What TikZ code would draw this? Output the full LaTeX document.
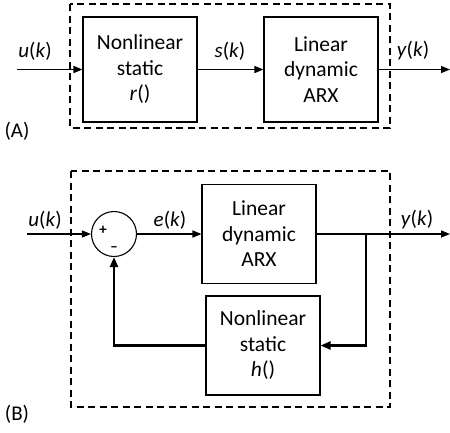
\documentclass[tikz,border=0pt]{standalone}
\usepackage{fontspec}
\setmainfont{Carlito}
\usepackage{tikz}
\usetikzlibrary{arrows.meta, positioning, calc}

\begin{document}
\begin{tikzpicture}[
  x=1pt, y=-1pt,
  block/.style={draw, line width=1.1pt, minimum width=114pt, minimum height=#1, inner sep=0pt, align=center, font=\fontsize{21.5}{25.5}\selectfont},
  block/.default=105pt,
  sumnode/.style={circle, draw, line width=1.1pt, minimum size=45pt, inner sep=0pt},
  frame/.style={line width=1.1pt, dash pattern=on 7pt off 4.5pt},
  signal/.style={line width=1.4pt, -{Triangle[length=9pt, width=7pt]}},
  feedback/.style={line width=2.3pt, -{Triangle[length=10pt, width=8pt]}},
  lbl/.style={font=\fontsize{21}{24}\selectfont, inner sep=0pt},
]
  \useasboundingbox (0,0) rectangle (450,432);

  % (A) Hammerstein chain
  \draw[frame] (70,4) rectangle (390,128);
  \node[block] (nlr) at (140,69.5) {Nonlinear\\static\\\textit{r}()};
  \node[block] (arxa) at (321,69.5) {Linear\\dynamic\\ARX};
  \coordinate (ina) at (17,69.5);
  \coordinate (outa) at (450,69.5);

  \draw[signal] (ina) -- (nlr.west);
  \draw[signal] (nlr.east) -- (arxa.west);
  \draw[signal] (arxa.east) -- (outa);

  \node[lbl] (ua) at (35,51) {\textit{u}(\textit{k})};
  \node[lbl] (sa) at (230,51) {\textit{s}(\textit{k})};
  \node[lbl] (ya) at (413,51) {\textit{y}(\textit{k})};
  \node[lbl] (tagA) at (17,131) {(A)};

  % (B) feedback loop
  \draw[frame] (71,171) rectangle (390,407);
  \node[sumnode] (sum) at (114,234) {};
  \node[font=\fontsize{15}{15}\selectfont\bfseries, inner sep=0pt] (plus) at (103,230) {+};
  \node[font=\fontsize{15}{15}\selectfont\bfseries, inner sep=0pt] (minus) at (114,249) {\textendash};
  \node[block=99pt] (arxb) at (259,234) {Linear\\dynamic\\ARX};
  \node[block=99pt] (nlh) at (263,345.5) {Nonlinear\\static\\\textit{h}()};
  \coordinate (inb) at (27,234);
  \coordinate (outb) at (450,234);
  \coordinate (branch) at (366,234);

  \draw[signal] (inb) -- (sum.west);
  \draw[signal] (sum.east) -- (arxb.west);
  \draw[signal] (arxb.east) -- (outb);
  \draw[feedback] (branch) |- (nlh.east);
  \draw[feedback] (nlh.west) -| (sum.south);

  \node[lbl] (ub) at (45,220) {\textit{u}(\textit{k})};
  \node[lbl] (eb) at (170,220) {\textit{e}(\textit{k})};
  \node[lbl] (yb) at (417,220) {\textit{y}(\textit{k})};
  \node[lbl] (tagB) at (17,414) {(B)};
\end{tikzpicture}
\end{document}
